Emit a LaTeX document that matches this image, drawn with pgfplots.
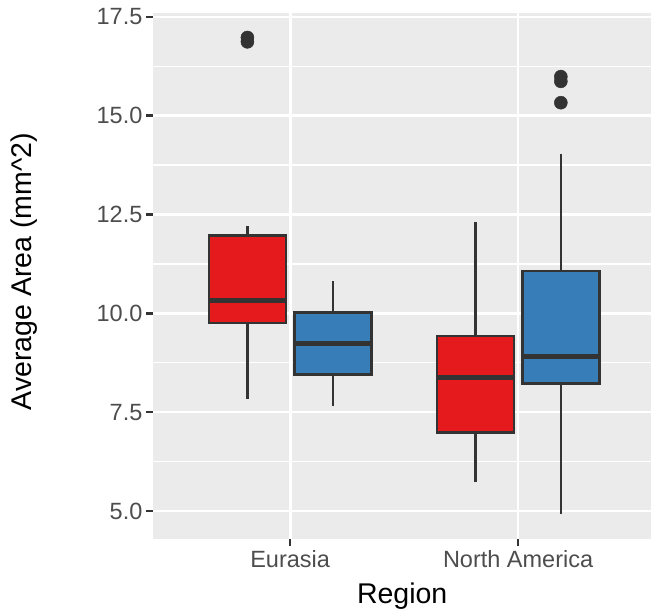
\documentclass[border=0pt]{standalone}
\usepackage{pgfplots}
\pgfplotsset{compat=1.18}
\usepgfplotslibrary{statistics}
\usepackage{fontspec}
\setmainfont{Liberation Sans}
\definecolor{ggbg}{HTML}{EBEBEB}
\definecolor{ggred}{HTML}{E41A1C}
\definecolor{ggblue}{HTML}{377EB8}
\definecolor{gg20}{HTML}{333333}
\definecolor{gg30}{HTML}{4D4D4D}
\pgfplotsset{
  ggbox/.style={
    boxplot/draw direction=y,
    boxplot/box extend=0.3375,
    boxplot/whisker extend=0,
    boxplot/every box/.style={draw=gg20, line width=2.6pt, fill=#1},
    boxplot/every whisker/.style={draw=gg20, line width=2.4pt},
    boxplot/every median/.style={draw=gg20, line width=5pt},
    mark=*, mark size=6.5pt, mark options={draw=gg20, fill=gg20, line width=0.5pt},
    solid
  }
}
\begin{document}
\begin{tikzpicture}
\path[use as bounding box] (0,0) rectangle (651pt,610pt);
\begin{axis}[
  at={(153.4pt,71pt)}, anchor=south west,
  scale only axis, width=497.6pt, height=526pt,
  xmin=0.4, xmax=2.583, ymin=4.29, ymax=17.6,
  axis background/.style={fill=ggbg},
  axis line style={draw=none},
  xtick={1,2}, xticklabels={Eurasia, North America},
  ytick={5,7.5,...,17.5},
  minor ytick={6.25,8.75,...,16.25},
  grid=both,
  major grid style={white, line width=2.7pt},
  minor grid style={white, line width=1.3pt},
  tick align=outside, tick pos=left,
  major tick length=7.5pt, minor tick length=0pt,
  tick style={gg20, line width=2.6pt},
  /pgf/number format/assume math mode=true,
  ticklabel style={gg30, font=\fontsize{23.5}{28}\selectfont},
  yticklabel style={/pgf/number format/fixed, /pgf/number format/fixed zerofill, /pgf/number format/precision=1},
  xlabel={Region},
  ylabel={Average Area (mm\textasciicircum 2)},
  label style={black, font=\fontsize{28.5}{33}\selectfont},
  xlabel style={at={(axis description cs:0.5,-0.1217)}, anchor=base},
  ylabel style={at={(axis description cs:-0.2596,0.508)}, anchor=center, rotate=0},
]
\addplot[ggbox=ggred, boxplot prepared={draw position=0.8125,
  lower whisker=7.845, lower quartile=9.76, median=10.32, upper quartile=11.97, upper whisker=12.22}]
  coordinates {(0,16.98) (0,16.87)};
\addplot[ggbox=ggblue, boxplot prepared={draw position=1.1875,
  lower whisker=7.655, lower quartile=8.45, median=9.24, upper quartile=10.02, upper whisker=10.82}]
  coordinates {};
\addplot[ggbox=ggred, boxplot prepared={draw position=1.8125,
  lower whisker=5.74, lower quartile=6.99, median=8.38, upper quartile=9.43, upper whisker=12.32}]
  coordinates {};
\addplot[ggbox=ggblue, boxplot prepared={draw position=2.1875,
  lower whisker=4.93, lower quartile=8.22, median=8.90, upper quartile=11.07, upper whisker=14.03}]
  coordinates {(0,15.99) (0,15.87) (0,15.33)};
\end{axis}
\end{tikzpicture}
\end{document}
